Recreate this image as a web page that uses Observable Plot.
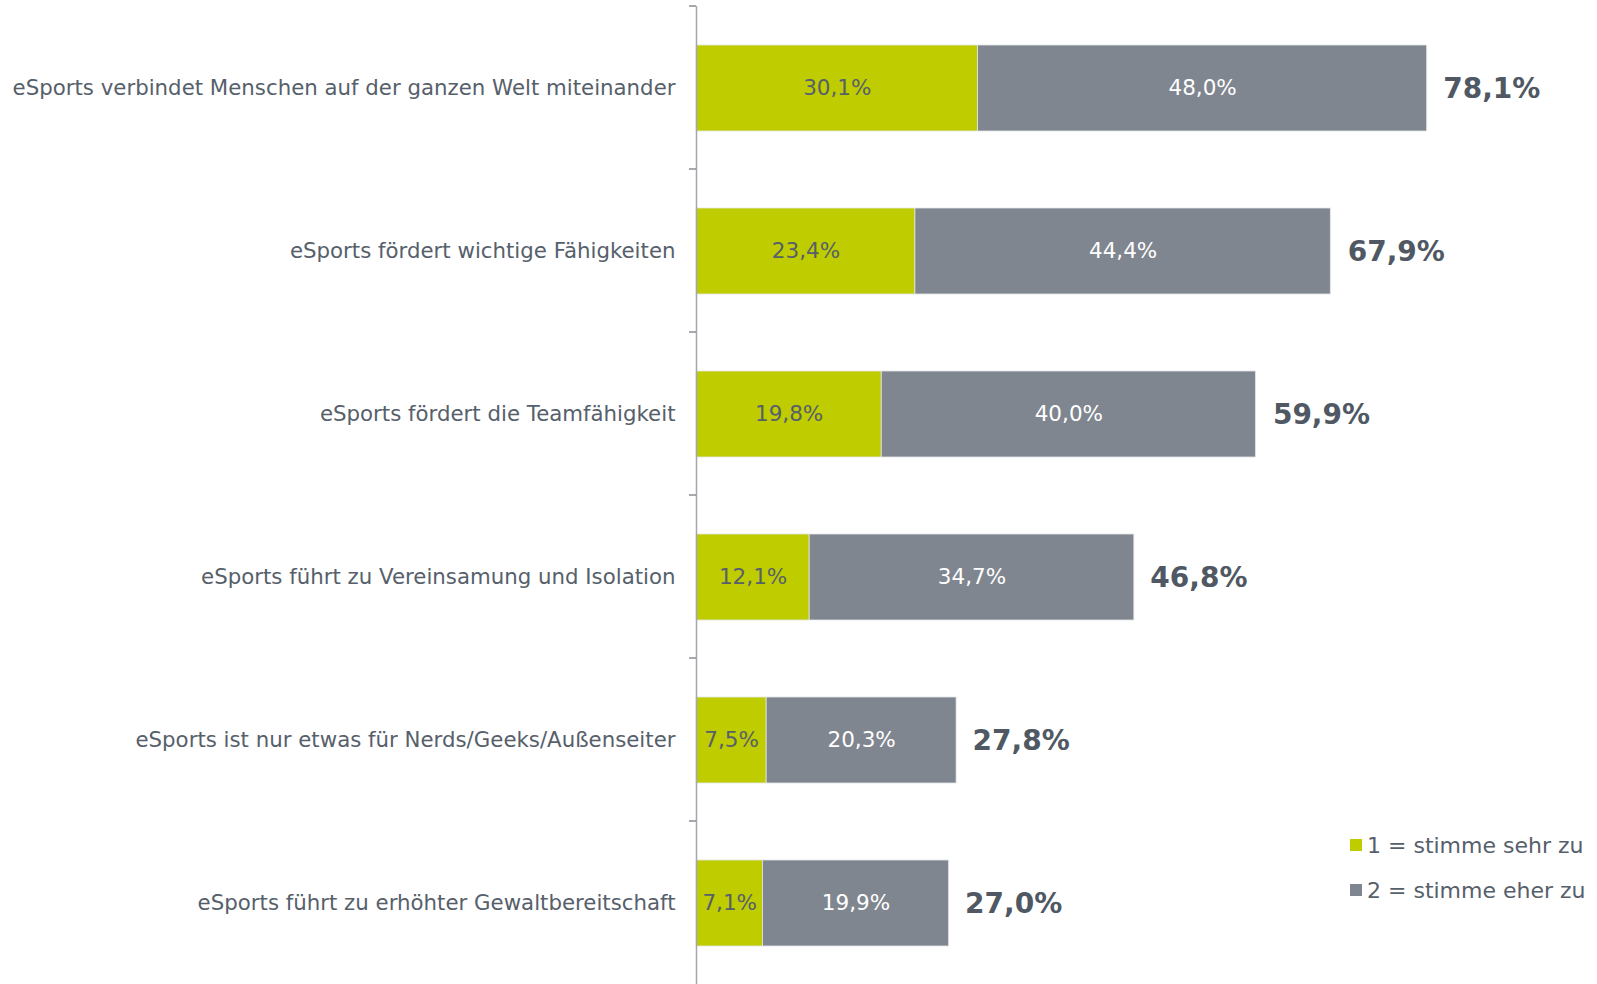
<!DOCTYPE html>
<html>
<head>
<meta charset="utf-8">
<script src="https://cdn.jsdelivr.net/npm/d3@7"></script>
<script src="https://cdn.jsdelivr.net/npm/@observablehq/plot@0.6"></script>
<style>
  html, body { margin: 0; padding: 0; background: #fff; }
  #wrap { position: relative; width: 1597px; height: 984px; font-family: "DejaVu Sans", Verdana, sans-serif; }
  #legend { position: absolute; left: 1350px; top: 833px; color: #56606b; font-size: 22px; }
  #legend .row { display: flex; align-items: center; height: 24px; margin-bottom: 21px; white-space: nowrap; }
  #legend .sw { width: 12px; height: 12px; margin-right: 5px; }
</style>
</head>
<body>
<div id="wrap"><div id="legend"></div></div>
<script>
const categories = [
  "eSports verbindet Menschen auf der ganzen Welt miteinander",
  "eSports fördert wichtige Fähigkeiten",
  "eSports fördert die Teamfähigkeit",
  "eSports führt zu Vereinsamung und Isolation",
  "eSports ist nur etwas für Nerds/Geeks/Außenseiter",
  "eSports führt zu erhöhter Gewaltbereitschaft"
];
const sehrZu = [30.1, 23.4, 19.8, 12.1, 7.5, 7.1];
const eherZu = [48.0, 44.4, 40.0, 34.7, 20.3, 19.9];
const totals = [78.1, 67.9, 59.9, 46.8, 27.8, 27.0];
const seriesNames = ["1 = stimme sehr zu", "2 = stimme eher zu"];
const seriesColors = ["#bfcc00", "#7f868f"];

const fmt = v => v.toFixed(1).replace(".", ",") + "%";

const rows = [];
categories.forEach((c, i) => {
  rows.push({cat: c, series: seriesNames[0], value: sehrZu[i]});
  rows.push({cat: c, series: seriesNames[1], value: eherZu[i]});
});
const totalRows = categories.map((c, i) => ({cat: c, total: totals[i]}));

const H = 984, marginTop = 6, marginBottom = 0;
const halfStep = (H - marginTop - marginBottom) / categories.length / 2;

const chart = Plot.plot({
  width: 1597,
  height: H,
  marginLeft: 696,
  marginRight: 59,
  marginTop,
  marginBottom,
  style: {fontFamily: '"DejaVu Sans", Verdana, sans-serif', color: "#56606b", background: "#fff"},
  x: {domain: [0, 90], axis: null},
  y: {domain: categories, paddingInner: 0.47, paddingOuter: 0.235, axis: null},
  color: {domain: seriesNames, range: seriesColors},
  marks: [
    Plot.barX(rows, Plot.stackX({x: "value", y: "cat", fill: "series", order: seriesNames, stroke: "#e4e6e8", strokeWidth: 0.8, dy: 1})),
    Plot.text(rows, Plot.stackX({
      x: "value", y: "cat", order: seriesNames,
      text: d => fmt(d.value),
      fill: d => d.series === seriesNames[0] ? "#56606b" : "#ffffff",
      fontSize: 21.5, dy: 1
    })),
    Plot.text(totalRows, {x: "total", y: "cat", text: d => fmt(d.total), textAnchor: "start", dx: 16, dy: 2, fontSize: 28, fontWeight: "bold", fill: "#4f5863"}),
    Plot.ruleX([0], {stroke: "#a3a8ae", strokeWidth: 1.5}),
    Plot.ruleY(categories, {y: d => d, x1: -0.75, x2: 0, dy: -halfStep, stroke: "#6b7178", strokeWidth: 1.2}),
    Plot.axisY({tickSize: 0, tickPadding: 21, fontSize: 21.3, label: null, fill: "#56606b", dy: 1})
  ]
});
document.getElementById("wrap").prepend(chart);

const legend = document.getElementById("legend");
seriesNames.forEach((n, i) => {
  const row = document.createElement("div");
  row.className = "row";
  const sw = document.createElement("div");
  sw.className = "sw";
  sw.style.background = seriesColors[i];
  const t = document.createElement("span");
  t.textContent = n;
  row.append(sw, t);
  legend.append(row);
});
</script>
</body>
</html>
